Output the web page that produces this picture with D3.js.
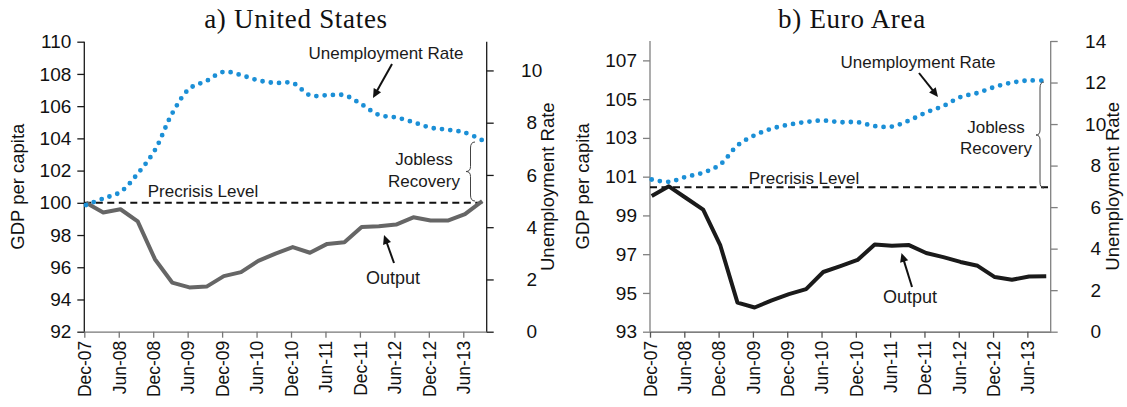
<!DOCTYPE html>
<html>
<head>
<meta charset="utf-8">
<script src="https://cdn.jsdelivr.net/npm/d3@7"></script>
<style>
  html, body { margin: 0; padding: 0; background: #fff; }
  svg { display: block; }
</style>
</head>
<body>
<svg id="chart" width="1127" height="407"></svg>
<script>
// ---------------- DATA ----------------
const quarters = ["2007Q4","2008Q1","2008Q2","2008Q3","2008Q4","2009Q1","2009Q2","2009Q3",
  "2009Q4","2010Q1","2010Q2","2010Q3","2010Q4","2011Q1","2011Q2","2011Q3",
  "2011Q4","2012Q1","2012Q2","2012Q3","2012Q4","2013Q1","2013Q2","2013Q3"];
const xTickLabels = ["Dec-07","Jun-08","Dec-08","Jun-09","Dec-09","Jun-10","Dec-10","Jun-11","Dec-11","Jun-12","Dec-12","Jun-13"];

const usOutput = [100.0, 99.4, 99.6, 98.85, 96.5, 95.05, 94.75, 94.8, 95.45, 95.7, 96.4, 96.85,
  97.25, 96.9, 97.45, 97.55, 98.5, 98.55, 98.65, 99.1, 98.9, 98.9, 99.3, 100.1];
const usUnemp = [4.85, 5.1, 5.35, 6.05, 6.95, 8.35, 9.3, 9.6, 9.95, 9.82, 9.62, 9.52,
  9.52, 9.05, 9.05, 9.05, 8.7, 8.3, 8.2, 8.02, 7.81, 7.73, 7.62, 7.33];
const euOutput = [100.0, 100.5, 99.9, 99.3, 97.45, 94.5, 94.25, 94.62, 94.94, 95.2, 96.08, 96.38,
  96.7, 97.5, 97.43, 97.47, 97.06, 96.85, 96.6, 96.4, 95.82, 95.68, 95.85, 95.86];
const euUnemp = [7.33, 7.22, 7.46, 7.66, 8.06, 8.97, 9.46, 9.78, 9.97, 10.1, 10.17, 10.09,
  10.09, 9.9, 9.88, 10.17, 10.56, 10.87, 11.3, 11.5, 11.79, 12.0, 12.1, 12.08];

const usLeftTicks = [92, 94, 96, 98, 100, 102, 104, 106, 108, 110];
const usRightTicks = [0, 2, 4, 6, 8, 10];
const euLeftTicks = [93, 95, 97, 99, 101, 103, 105, 107];
const euRightTicks = [0, 2, 4, 6, 8, 10, 12, 14];
const usPrecrisis = 100;
const euPrecrisis = 100.45;

// ---------------- DRAW ----------------
const svg = d3.select("#chart");
const SANS = "'Liberation Sans', Arial, sans-serif";

function drawPanel(cfg) {
  const g = svg.append("g");
  const x = d3.scaleLinear().domain([0, 23.36]).range([cfg.left, cfg.right]);
  const yL = d3.scaleLinear().domain(cfg.leftDomain).range([cfg.bottom, cfg.top]);
  const yR = d3.scaleLinear().domain(cfg.rightDomain).range([cfg.bottom, cfg.top]);
  const xi = i => x(i + 0.1);

  // title
  g.append("text").attr("x", cfg.titleX).attr("y", 28)
    .attr("text-anchor", "middle")
    .style("font-family", "'Liberation Serif', 'Times New Roman', serif")
    .style("font-size", "27px").style("letter-spacing", "0.7px").attr("fill", "#111")
    .text(cfg.title);

  // bottom axis
  const xAxis = d3.axisBottom(x)
    .tickValues(d3.range(0, 23, 2))
    .tickFormat((d, i) => xTickLabels[i])
    .tickSize(6).tickSizeOuter(0);
  const gx = g.append("g").attr("transform", `translate(0,${cfg.bottom})`).call(xAxis);
  gx.select(".domain").attr("stroke", cfg.bottomColor).attr("stroke-width", 1.3);
  gx.selectAll(".tick line").attr("stroke", cfg.bottomColor).attr("stroke-width", 1.3);
  gx.selectAll("text")
    .attr("transform", "rotate(-90)")
    .attr("x", -9).attr("y", 0).attr("dy", "0.36em")
    .attr("text-anchor", "end")
    .attr("fill", "#111")
    .style("font-family", SANS).style("font-size", "17.5px");

  // left axis
  const gl = g.append("g").attr("transform", `translate(${cfg.left},0)`)
    .call(d3.axisLeft(yL).tickValues(cfg.leftTicks).tickSize(7).tickSizeOuter(0).tickPadding(6));
  gl.select(".domain").attr("stroke", cfg.sideColor).attr("stroke-width", 1.3)
    .attr("d", `M0,${cfg.top}V${cfg.bottom}`);
  gl.selectAll(".tick line").attr("stroke", cfg.sideColor).attr("stroke-width", 1.3);
  gl.selectAll("text").attr("fill", "#111")
    .style("font-family", SANS).style("font-size", "19px");

  // right axis
  const gr = g.append("g").attr("transform", `translate(${cfg.right},0)`)
    .call(d3.axisRight(yR).tickValues(cfg.rightTicks).tickSize(7).tickSizeOuter(0));
  gr.select(".domain").attr("stroke", cfg.sideColor).attr("stroke-width", 1.3)
    .attr("d", `M0,${cfg.top}V${cfg.bottom}`);
  gr.selectAll(".tick line").attr("stroke", cfg.sideColor).attr("stroke-width", 1.3);
  gr.selectAll("text").attr("fill", "#111").attr("x", 45).attr("text-anchor", "middle")
    .style("font-family", SANS).style("font-size", "19px");

  // axis titles
  const midY = (cfg.top + cfg.bottom) / 2;
  g.append("text").attr("transform", `translate(${cfg.leftTitleX},${midY}) rotate(-90)`)
    .attr("text-anchor", "middle").attr("dy", "0.35em")
    .style("font-family", SANS).style("font-size", "18.5px").attr("fill", "#111")
    .text("GDP per capita");
  g.append("text").attr("transform", `translate(${cfg.rightTitleX},${midY}) rotate(-90)`)
    .attr("text-anchor", "middle").attr("dy", "0.35em")
    .style("font-family", SANS).style("font-size", "18.5px").attr("fill", "#111")
    .text("Unemployment Rate");

  // precrisis dashed line
  g.append("line")
    .attr("x1", cfg.left).attr("x2", cfg.right)
    .attr("y1", yL(cfg.precrisis)).attr("y2", yL(cfg.precrisis))
    .attr("stroke", "#111").attr("stroke-width", 2).attr("stroke-dasharray", "7,4.5");

  // output line
  g.append("path").datum(cfg.output)
    .attr("fill", "none").attr("stroke", cfg.outputColor).attr("stroke-width", 4)
    .attr("stroke-linejoin", "round")
    .attr("d", d3.line().x((d, i) => xi(i)).y(d => yL(d)));

  // unemployment dotted smoothed line
  g.append("path").datum(cfg.unemp)
    .attr("fill", "none").attr("stroke", "#1b8fd6").attr("stroke-width", 4.8)
    .attr("stroke-linecap", "round").attr("stroke-dasharray", "0,8.3")
    .attr("d", d3.line().curve(d3.curveCatmullRom.alpha(0.5)).x((d, i) => xi(i)).y(d => yR(d)));

  // annotations
  const a = cfg.ann;
  const txt = (p, s, size) => g.append("text").attr("x", p[0]).attr("y", p[1])
    .attr("text-anchor", "middle").style("font-family", SANS)
    .style("font-size", (size || 17) + "px").attr("fill", "#1a1a1a").text(s);
  txt(a.unempText, "Unemployment Rate");
  txt(a.precrisisText, "Precrisis Level");
  txt(a.jobless, "Jobless");
  txt(a.recovery, "Recovery");
  txt(a.outputText, "Output", 18);
  arrow(g, a.unempArrow[0], a.unempArrow[1]);
  arrow(g, a.outputArrow[0], a.outputArrow[1]);
  brace(g, a.brace);
}

function arrow(g, p0, p1) {
  const dx = p1[0] - p0[0], dy = p1[1] - p0[1];
  const len = Math.hypot(dx, dy), ux = dx / len, uy = dy / len;
  const hl = 9, hw = 4.2;
  const bx = p1[0] - ux * hl, by = p1[1] - uy * hl;
  g.append("line").attr("x1", p0[0]).attr("y1", p0[1]).attr("x2", bx + ux).attr("y2", by + uy)
    .attr("stroke", "#111").attr("stroke-width", 2);
  g.append("path")
    .attr("d", `M${p1[0]},${p1[1]}L${bx - uy * hw},${by + ux * hw}L${bx + uy * hw},${by - ux * hw}Z`)
    .attr("fill", "#111");
}

function brace(g, b) {
  const { xr, xs, xn, y0, y1 } = b;
  const ym = (y0 + y1) / 2;
  const d = `M${xr},${y0}Q${xs},${y0} ${xs},${y0 + 6}L${xs},${ym - 5}Q${xs},${ym} ${xn},${ym}` +
    `Q${xs},${ym} ${xs},${ym + 5}L${xs},${y1 - 6}Q${xs},${y1} ${xr},${y1}`;
  g.append("path").attr("d", d).attr("fill", "none").attr("stroke", "#444").attr("stroke-width", 1);
}

drawPanel({
  title: "a) United States", titleX: 296,
  left: 84.3, right: 486.7, top: 41.7, bottom: 331.7,
  leftDomain: [92, 110], rightDomain: [0, 11.1],
  leftTicks: usLeftTicks, rightTicks: usRightTicks,
  leftTitleX: 18, rightTitleX: 548,
  sideColor: "#1a1a1a", bottomColor: "#777",
  output: usOutput, unemp: usUnemp, outputColor: "#666", precrisis: usPrecrisis,
  ann: {
    unempText: [386, 59], unempArrow: [[392, 64], [373, 98]],
    jobless: [424, 165], recovery: [424, 187],
    precrisisText: [203, 197],
    outputText: [393, 284], outputArrow: [[394, 263], [384, 235]],
    brace: { xr: 475, xs: 470.5, xn: 466, y0: 142, y1: 201 }
  }
});

drawPanel({
  title: "b) Euro Area", titleX: 852,
  left: 650, right: 1050.7, top: 41, bottom: 331.7,
  leftDomain: [93, 108], rightDomain: [0, 14],
  leftTicks: euLeftTicks, rightTicks: euRightTicks,
  leftTitleX: 583, rightTitleX: 1113,
  sideColor: "#808080", bottomColor: "#555",
  output: euOutput, unemp: euUnemp, outputColor: "#1a1a1a", precrisis: euPrecrisis,
  ann: {
    unempText: [918, 68], unempArrow: [[919, 73], [938, 97]],
    jobless: [996, 133], recovery: [996, 153.5],
    precrisisText: [804, 184],
    outputText: [910, 303], outputArrow: [[912, 287], [901.5, 253]],
    brace: { xr: 1044, xs: 1040, xn: 1036, y0: 82, y1: 188 }
  }
});
</script>
</body>
</html>
